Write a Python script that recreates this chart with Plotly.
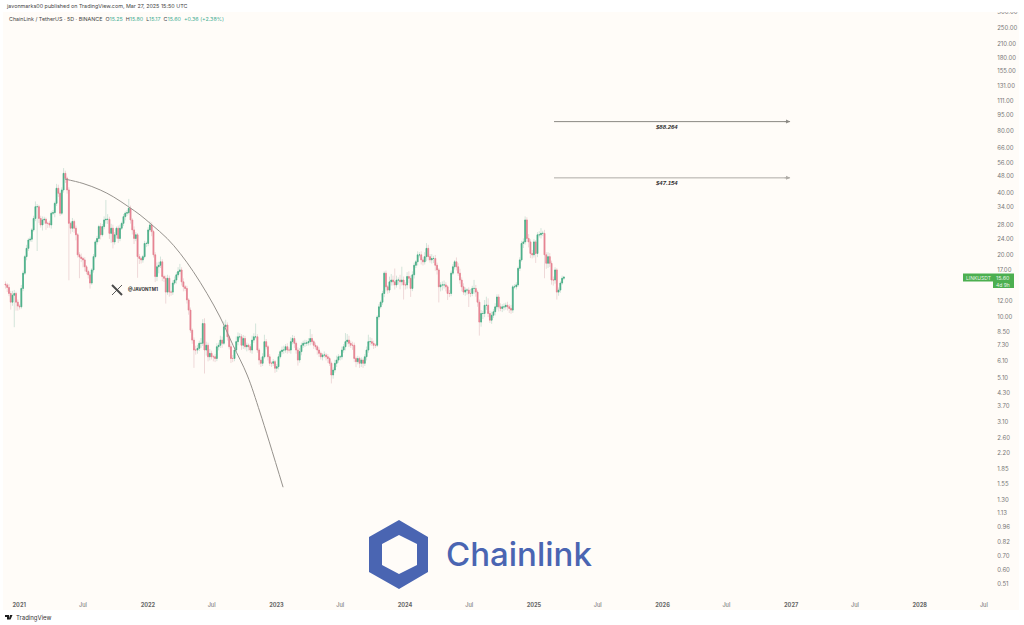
import math

import pandas as pd
import plotly.graph_objects as go

# ChainLink / TetherUS 5-day candles, oldest first
closes = [
    14.3, 13.9, 13.0, 11.8, 12.75, 13.0, 11.8, 11.3, 11.2, 13.75,
    16.3, 19.6, 21.5, 23.6, 23.8, 26.4, 30.0, 34.2, 34.2, 30.0,
    27.9, 29.5, 29.7, 28.4, 28.4, 27.9, 31.8, 32.0, 35.5, 42.0,
    39.7, 31.8, 41.2, 49.6, 46.9, 41.2, 28.4, 26.9, 29.0, 26.9,
    25.0, 20.0, 19.5, 19.2, 18.9, 17.5, 16.6, 16.0, 14.6, 16.9,
    19.6, 23.1, 24.0, 27.4, 25.0, 27.4, 29.5, 29.7, 29.7, 25.4,
    26.9, 23.1, 25.0, 26.9, 24.0, 26.9, 28.4, 30.6, 31.8, 32.0,
    33.6, 29.5, 26.4, 24.0, 25.0, 19.6, 19.2, 18.9, 19.6, 22.7,
    22.7, 26.4, 27.9, 25.9, 20.0, 15.7, 17.5, 17.8, 18.5, 15.7,
    15.4, 13.2, 15.4, 13.2, 13.2, 14.6, 15.1, 16.0, 16.6, 16.9,
    14.8, 14.0, 13.75, 12.1, 10.8, 8.64, 7.73, 6.92, 6.92, 7.05,
    7.46, 7.46, 9.3, 6.92, 7.3, 6.42, 6.67, 6.42, 6.42, 6.3,
    7.18, 7.3, 7.73, 7.46, 8.97, 9.15, 8.02, 7.18, 6.3, 6.3,
    6.92, 7.6, 8.02, 8.02, 7.3, 7.87, 7.18, 7.3, 7.18, 6.92,
    7.73, 8.02, 8.02, 6.92, 6.19, 5.97, 6.42, 7.6, 7.18, 6.42,
    5.97, 5.97, 6.08, 5.65, 5.75, 6.42, 6.8, 6.92, 6.92, 7.18,
    6.92, 6.92, 7.6, 7.87, 7.46, 6.92, 6.19, 6.8, 7.3, 7.46,
    7.46, 7.5, 7.6, 7.87, 7.6, 7.3, 7.18, 6.92, 6.67, 6.42,
    6.55, 6.55, 6.42, 6.3, 5.97, 5.24, 5.54, 5.97, 6.19, 6.42,
    6.42, 6.92, 7.18, 7.6, 7.73, 7.46, 7.3, 7.3, 6.3, 6.08,
    6.3, 5.97, 6.19, 5.97, 6.42, 6.92, 7.6, 7.6, 7.46, 7.3,
    7.3, 10.0, 11.2, 11.8, 13.0, 16.3, 14.0, 13.5, 14.8, 15.1,
    14.8, 14.3, 15.1, 15.1, 14.8, 15.1, 14.3, 14.3, 15.7, 15.4,
    13.75, 16.0, 17.8, 18.5, 20.0, 20.0, 18.9, 18.5, 19.6, 21.5,
    19.6, 18.9, 19.2, 19.2, 17.8, 16.9, 14.0, 14.3, 14.3, 14.3,
    14.0, 13.0, 13.0, 16.3, 17.5, 18.5, 17.5, 16.3, 15.1, 14.0,
    13.2, 13.5, 13.5, 13.0, 13.0, 13.75, 13.75, 13.2, 11.8, 9.45,
    10.4, 10.4, 11.4, 11.4, 10.4, 9.65, 10.2, 10.6, 11.2, 12.5,
    11.2, 11.0, 11.2, 11.2, 11.4, 11.2, 11.0, 10.8, 14.0, 14.0,
    14.3, 17.2, 18.9, 22.7, 23.1, 29.5, 24.0, 23.1, 20.3, 20.0,
    23.1, 20.3, 25.0, 25.0, 25.4, 25.4, 20.0, 18.2, 19.6, 18.2,
    15.1, 15.1, 16.9, 13.2, 13.5, 14.6, 15.4, 15.6,
]

# Wick lengths in percent of the candle body's upper and lower edge
upper_wick_pct = [
    3, 2, 4, 3, 5, 4, 2, 3, 2, 4,
    3, 2, 4, 2, 3, 2, 3, 6, 3, 2,
    3, 4, 3, 2, 2, 3, 2, 3, 2, 5,
    4, 2, 3, 6, 3, 2, 3, 2, 4, 2,
    3, 2, 3, 4, 2, 3, 2, 2, 3, 2,
    3, 2, 3, 2, 4, 3, 4, 24, 6, 3,
    5, 4, 3, 2, 3, 4, 2, 3, 2, 3,
    11, 3, 2, 4, 3, 2, 3, 2, 2, 3,
    2, 3, 4, 3, 2, 3, 5, 4, 6, 3,
    2, 3, 4, 3, 2, 3, 4, 3, 5, 7,
    3, 4, 2, 3, 2, 3, 2, 3, 5, 4,
    3, 6, 5, 6, 4, 3, 5, 3, 2, 3,
    4, 3, 5, 4, 6, 6, 3, 2, 3, 4,
    3, 6, 5, 4, 3, 4, 3, 3, 2, 3,
    5, 4, 16, 3, 2, 3, 4, 8, 3, 2,
    3, 2, 3, 2, 3, 3, 2, 4, 5, 3,
    4, 3, 5, 4, 3, 2, 3, 4, 3, 3,
    4, 3, 4, 11, 5, 2, 3, 2, 3, 2,
    2, 4, 2, 3, 2, 2, 3, 4, 5, 3,
    2, 4, 3, 10, 7, 5, 3, 4, 3, 2,
    3, 2, 3, 2, 3, 4, 8, 5, 4, 3,
    2, 2, 3, 2, 3, 2, 3, 2, 6, 7,
    5, 16, 5, 3, 6, 16, 4, 3, 5, 6,
    3, 4, 3, 2, 4, 3, 4, 3, 5, 6,
    4, 3, 5, 3, 4, 3, 2, 3, 4, 5,
    3, 2, 4, 3, 3, 2, 5, 4, 5, 3,
    4, 3, 2, 3, 5, 3, 10, 4, 2, 3,
    4, 3, 6, 10, 8, 3, 4, 3, 4, 3,
    3, 4, 3, 4, 3, 4, 3, 4, 2, 3,
    3, 2, 3, 3, 4, 4, 3, 5, 3, 4,
    3, 2, 3, 4, 6, 3, 4, 3, 5, 4,
    3, 4, 3, 2, 3, 2, 3, 1,
]
lower_wick_pct = [
    4, 5, 3, 8, 4, 30, 9, 5, 3, 2,
    3, 2, 4, 3, 2, 3, 2, 3, 39, 5,
    3, 6, 4, 7, 5, 3, 4, 2, 5, 3,
    4, 3, 2, 3, 5, 4, 47, 6, 4, 5,
    6, 3, 21, 4, 8, 5, 3, 4, 6, 2,
    3, 2, 3, 4, 5, 2, 3, 4, 5, 6,
    10, 7, 3, 4, 5, 3, 2, 3, 4, 3,
    2, 4, 5, 6, 3, 21, 6, 4, 3, 2,
    4, 3, 2, 5, 3, 6, 5, 7, 3, 5,
    4, 12, 3, 5, 4, 3, 2, 4, 3, 3,
    4, 5, 3, 4, 5, 3, 4, 18, 5, 4,
    3, 5, 3, 23, 6, 5, 4, 3, 5, 4,
    3, 4, 3, 5, 2, 3, 4, 3, 5, 4,
    3, 2, 4, 3, 5, 4, 3, 5, 4, 3,
    4, 3, 2, 3, 5, 4, 3, 2, 3, 4,
    3, 4, 3, 5, 4, 3, 2, 3, 4, 3,
    4, 3, 4, 3, 5, 4, 6, 3, 4, 3,
    4, 3, 3, 4, 3, 4, 3, 5, 4, 3,
    4, 3, 4, 5, 3, 9, 4, 3, 4, 3,
    4, 3, 3, 4, 3, 4, 3, 5, 4, 6,
    3, 5, 4, 5, 3, 4, 3, 4, 3, 4,
    3, 2, 3, 2, 3, 4, 5, 4, 3, 4,
    4, 5, 3, 5, 8, 4, 15, 5, 4, 5,
    9, 3, 4, 3, 4, 3, 5, 4, 3, 5,
    4, 3, 4, 5, 6, 5, 16, 5, 6, 4,
    5, 7, 4, 3, 2, 3, 4, 3, 4, 5,
    3, 4, 5, 14, 4, 3, 6, 5, 5, 14,
    5, 6, 4, 5, 4, 3, 4, 3, 4, 3,
    5, 3, 4, 4, 3, 4, 5, 4, 3, 2,
    3, 2, 3, 2, 5, 3, 4, 6, 5, 4,
    3, 10, 4, 3, 4, 3, 23, 6, 5, 4,
    5, 6, 4, 8, 4, 3, 2, 2,
]

# Hand-drawn resistance curve and projected price targets
arc_dates = [
    "2021-05-11", "2021-07-01", "2021-08-19", "2021-09-25", "2021-11-07",
    "2021-12-10", "2022-01-13", "2022-02-25", "2022-04-03", "2022-05-10",
    "2022-06-18", "2022-07-25", "2022-08-31", "2022-10-10", "2022-11-16",
    "2023-01-20",
]
arc_prices = [46.5, 44.3, 41.2, 38.2, 34.2, 31.2, 27.9, 24.0, 20.3, 16.6,
              13.0, 10.0, 7.3, 5.24, 3.43, 1.50]
target_prices = [88.264, 47.154]
target_labels = ["$88.264", "$47.154"]
target_colors = ["#8b8883", "#aeaba6"]
target_span = ["2025-02-27", "2026-12-29"]
target_mid = "2026-01-13"

price_ticks = [300, 250, 210, 180, 155, 131, 111, 95, 80, 66, 56, 48, 40, 34,
               28, 24, 20, 17, 12, 10, 8.5, 7.3, 6.1, 5.1, 4.3, 3.7, 3.1, 2.6,
               2.2, 1.85, 1.55, 1.30, 1.13, 0.96, 0.82, 0.70, 0.60, 0.51]
time_ticks = ["2021-01-01", "2021-07-01", "2022-01-01", "2022-07-01",
              "2023-01-01", "2023-07-01", "2024-01-01", "2024-07-01",
              "2025-01-01", "2025-07-01", "2026-01-01", "2026-07-01",
              "2027-01-01", "2027-07-01", "2028-01-01", "2028-07-01"]
time_labels = ["<b>2021</b>", "Jul", "<b>2022</b>", "Jul", "<b>2023</b>", "Jul",
               "<b>2024</b>", "Jul", "<b>2025</b>", "Jul", "<b>2026</b>", "Jul",
               "<b>2027</b>", "Jul", "<b>2028</b>", "Jul"]

GREEN, RED = "#45ad85", "#e77f8f"
GREEN_WICK, RED_WICK = "#d3e4da", "#efd8d8"
PANEL = "#fffcf8"
BLUE = "#4a65b2"
FONT = "Inter, Roboto, sans-serif"

W, H = 1024, 625
L, R, T, B = 3, 993, 10, 594

dates = pd.date_range(end="2025-03-27", periods=len(closes), freq="5D")
opens = [closes[0] * 1.01] + closes[:-1]
body_top = [max(o, c) for o, c in zip(opens, closes)]
body_bot = [min(o, c) for o, c in zip(opens, closes)]
highs = [t * (1 + u / 100) for t, u in zip(body_top, upper_wick_pct)]
lows = [b * (1 - d / 100) for b, d in zip(body_bot, lower_wick_pct)]


def px(x):
    return (x - L) / (R - L)


def py(y):
    return (B - y) / (B - T)


fig = go.Figure()

# Pale wicks first, solid bodies drawn over them
fig.add_trace(go.Candlestick(
    x=dates, open=opens, high=highs, low=lows, close=closes,
    increasing=dict(line=dict(color=GREEN_WICK, width=1), fillcolor=GREEN_WICK),
    decreasing=dict(line=dict(color=RED_WICK, width=1), fillcolor=RED_WICK),
    whiskerwidth=0, hoverinfo="skip", showlegend=False,
))
fig.add_trace(go.Candlestick(
    x=dates, open=opens, high=body_top, low=body_bot, close=closes,
    increasing=dict(line=dict(color=GREEN, width=0.7), fillcolor=GREEN),
    decreasing=dict(line=dict(color=RED, width=0.7), fillcolor=RED),
    whiskerwidth=0, hoverinfo="skip", showlegend=False,
))

fig.add_trace(go.Scatter(
    x=arc_dates, y=arc_prices, mode="lines",
    line=dict(color="#96928d", width=1, shape="spline"),
    hoverinfo="skip", showlegend=False,
))

for price, label, color in zip(target_prices, target_labels, target_colors):
    fig.add_trace(go.Scatter(
        x=target_span, y=[price, price], mode="lines",
        line=dict(color=color, width=1),
        hoverinfo="skip", showlegend=False,
    ))
    # Annotations on a log axis take the exponent rather than the price
    fig.add_annotation(
        xref="x", yref="y", x=target_span[1], y=math.log10(price),
        ax=-7, ay=0, axref="pixel", ayref="pixel",
        text="", showarrow=True, arrowhead=2, arrowsize=1, arrowwidth=0.8,
        arrowcolor=color,
    )
    fig.add_annotation(
        xref="x", yref="y", x=target_mid, y=math.log10(price), yshift=-5,
        showarrow=False, text=f"<b><i>{label}</i></b>",
        font=dict(family="Liberation Sans", size=6, color="#2f2f2f"),
    )

shapes = [
    # Cream chart panel and the white page strip above it
    dict(type="rect", layer="below", xref="paper", yref="paper",
         x0=px(3), x1=px(1019), y0=py(610), y1=py(12),
         fillcolor=PANEL, line_width=0),
    dict(type="rect", layer="above", xref="paper", yref="paper",
         x0=px(0), x1=px(W), y0=py(12), y1=py(0),
         fillcolor="white", line_width=0),
]

# Chainlink hexagon, outer ring and hole wound in opposite directions
outer = [(399, 520), (428, 537), (428, 572), (399, 589), (369, 572), (369, 537)]
inner = [(399, 535), (382, 544), (382, 565), (399, 574), (417, 565), (417, 544)]


def ring(points):
    head = f"M{px(points[0][0])},{py(points[0][1])}"
    rest = "".join(f"L{px(a)},{py(b)}" for a, b in points[1:])
    return head + rest + "Z"


shapes.append(dict(type="path", xref="paper", yref="paper", layer="above",
                   path=ring(outer) + ring(inner), fillcolor=BLUE, line_width=0))

# X mark beside the author's handle
for a, b, width in [((112, 285), (122, 295), 2.0), ((122, 285), (112, 295), 0.9)]:
    shapes.append(dict(type="line", xref="paper", yref="paper", layer="above",
                       x0=px(a[0]), y0=py(a[1]), x1=px(b[0]), y1=py(b[1]),
                       line=dict(color="#4a4a4a", width=width)))

# TradingView glyph in the footer
shapes.append(dict(type="path", xref="paper", yref="paper", layer="above",
                   path=ring([(5, 615), (9, 615), (9, 619.5), (7, 619.5), (7, 617), (5, 617)]),
                   fillcolor="#1c1c1c", line_width=0))
shapes.append(dict(type="path", xref="paper", yref="paper", layer="above",
                   path=ring([(10, 615), (12.5, 615), (10.5, 619.5), (8.8, 619.5)]),
                   fillcolor="#1c1c1c", line_width=0))

# Last-price tags on the price scale
shapes.append(dict(type="rect", xref="paper", yref="paper", layer="above",
                   x0=px(963), x1=px(1014), y0=py(281.5), y1=py(273.5),
                   fillcolor="#4caf50", line_width=0))
shapes.append(dict(type="rect", xref="paper", yref="paper", layer="above",
                   x0=px(993), x1=px(1014), y0=py(288), y1=py(281),
                   fillcolor="#4caf50", line_width=0))


def note(x, y, text, size, color="#444444", anchor="left", family=FONT, weight=None):
    font = dict(family=family, size=size, color=color)
    if weight:
        font["weight"] = weight
    fig.add_annotation(xref="paper", yref="paper", x=px(x), y=py(y), text=text,
                       showarrow=False, xanchor=anchor, yanchor="middle",
                       font=font, borderpad=0)


TEAL = "#3fae94"
note(5, 7, "javonmarks00 published on TradingView.com, Mar 27, 2025 15:50 UTC", 5.4)
note(8, 19, f"ChainLink / TetherUS · 5D · BINANCE  O<span style='color:{TEAL}'>15.25</span>"
            f"  H<span style='color:{TEAL}'>15.80</span>  L<span style='color:{TEAL}'>15.17</span>"
            f"  C<span style='color:{TEAL}'>15.60</span>"
            f"  <span style='color:{TEAL}'>+0.36 (+2.38%)</span>", 5.35)
note(127, 289, "<b>@JAVONTM1</b>", 4.6, color="#333333")
note(15, 617.5, "TradingView", 6, color="#333333")
note(445, 554, "Chainlink", 33, color=BLUE, weight=500)
note(964.5, 277.5, "LINKUSDT", 5, color="#e8f5e9")
note(1003.5, 277.5, "15.60", 5.4, color="#e8f5e9", anchor="center")
note(1003.5, 284.5, "4d 9h", 5, color="#e8f5e9", anchor="center")

fig.update_layout(
    width=W, height=H, margin=dict(l=L, r=W - R, t=T, b=H - B),
    paper_bgcolor="white", plot_bgcolor="rgba(0,0,0,0)",
    shapes=shapes, showlegend=False, dragmode=False,
    font=dict(family=FONT, color="#555555"),
    xaxis=dict(
        type="date", range=["2020-11-16", "2028-07-27"],
        tickmode="array", tickvals=time_ticks, ticktext=time_labels,
        showgrid=False, zeroline=False, showline=False,
        ticks="outside", ticklen=5, tickcolor="rgba(0,0,0,0)",
        tickfont=dict(size=5.6, color="#666666"),
        rangeslider=dict(visible=False),
    ),
    yaxis=dict(
        type="log", side="right", range=[-0.3407, 2.486],
        tickmode="array", tickvals=price_ticks,
        ticktext=[f"{v:.2f}" for v in price_ticks],
        showgrid=False, zeroline=False, showline=False,
        ticks="outside", ticklen=2, tickcolor="rgba(0,0,0,0)",
        tickfont=dict(size=6, color="#777777"),
    ),
)

fig.write_html("out.html")
